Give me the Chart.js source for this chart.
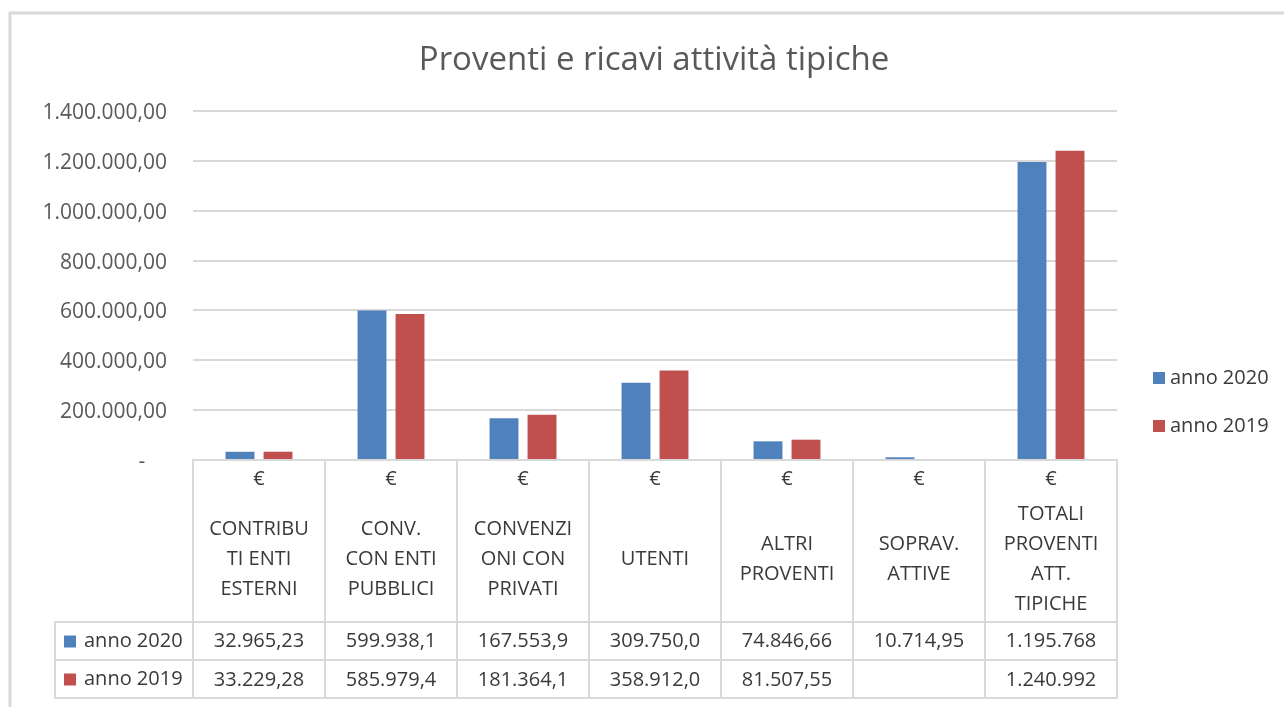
<!DOCTYPE html>
<html>
<head>
<meta charset="utf-8">
<script src="https://cdn.jsdelivr.net/npm/chart.js@4.4.1/dist/chart.umd.min.js"></script>
<style>
  html, body { margin: 0; padding: 0; background: #fff; }
  #chart { display: block; }
</style>
</head>
<body>
<canvas id="chart" width="1284" height="707"></canvas>
<script>
// dati del grafico
const titolo = 'Proventi e ricavi attività tipiche';
const categorie = [
    ['CONTRIBU', 'TI ENTI', 'ESTERNI'],
    ['CONV.', 'CON ENTI', 'PUBBLICI'],
    ['CONVENZI', 'ONI CON', 'PRIVATI'],
    ['UTENTI'],
    ['ALTRI', 'PROVENTI'],
    ['SOPRAV.', 'ATTIVE'],
    ['TOTALI', 'PROVENTI', 'ATT.', 'TIPICHE']
];
const serieNomi = ['anno 2020', 'anno 2019'];
const anno2020 = [32965.23, 599938.10, 167553.90, 309750.00, 74846.66, 10714.95, 1195768.84];
const anno2019 = [33229.28, 585979.40, 181364.10, 358912.00, 81507.55, null, 1240992.33];
const coloriSerie = ['#4f81bd', '#c0504d'];
const yMax = 1400000;
const yStep = 200000;

const GRIGIO = '#d9d9d9';
const TESTO = '#3a3a3a';
const FONT = "'Open Sans'";

function formatIt(v, dec) {
    let parts = Math.abs(v).toFixed(dec).split('.');
    let int = parts[0].replace(/\B(?=(\d{3})+(?!\d))/g, '.');
    return parts.length > 1 ? int + ',' + parts[1] : int;
}

// la tabella di Excel mostra al massimo 9 caratteri per cella
function cellaTabella(v) {
    if (v === null || v === undefined) return '';
    let s = formatIt(v, 2).slice(0, 9);
    if (s.endsWith(',') || s.endsWith('.')) s = s.slice(0, -1);
    return s;
}

const tabellaPlugin = {
    id: 'tabellaDati',
    beforeDraw(chart) {
        const c = chart.ctx;
        c.save();
        c.fillStyle = '#fff';
        c.fillRect(0, 0, chart.width, chart.height);
        // cornice
        c.strokeStyle = GRIGIO;
        c.lineWidth = 3;
        c.beginPath();
        c.moveTo(10, chart.height);
        c.lineTo(10, 13);
        c.lineTo(chart.width, 13);
        c.stroke();
        // titolo
        c.fillStyle = '#595959';
        c.font = '33px ' + FONT;
        c.textAlign = 'center';
        c.textBaseline = 'alphabetic';
        c.fillText(titolo, 654, 70);
        c.restore();
    },
    afterDraw(chart) {
        const c = chart.ctx;
        const x = chart.scales.x;
        const area = chart.chartArea;
        const rigaY = [622, 660, 698];
        c.save();
        c.strokeStyle = GRIGIO;
        c.lineWidth = 2;
        c.beginPath();
        rigaY.forEach(y => {
            c.moveTo(55, y);
            c.lineTo(area.right + 1, y);
        });
        c.moveTo(55, rigaY[0] - 1);
        c.lineTo(55, rigaY[2] + 1);
        c.stroke();

        c.fillStyle = TESTO;
        c.font = '20px ' + FONT;
        c.textAlign = 'center';
        c.textBaseline = 'middle';
        categorie.forEach((righe, i) => {
            const cx = x.getPixelForValue(i);
            c.fillText('€', cx, 479);
            const y0 = 559 - (righe.length - 1) * 30 / 2;
            righe.forEach((r, k) => c.fillText(r, cx, y0 + k * 30));
            c.fillText(cellaTabella(anno2020[i]), cx, 641);
            c.fillText(cellaTabella(anno2019[i]), cx, 680);
        });

        // chiavi della legenda nella tabella
        c.textAlign = 'left';
        [641, 679].forEach((y, k) => {
            c.fillStyle = coloriSerie[k];
            c.fillRect(64, y - 5.5, 12, 12);
            c.fillStyle = TESTO;
            c.fillText(serieNomi[k], 84, y);
        });

        // legenda a destra
        [378, 426].forEach((y, k) => {
            c.fillStyle = coloriSerie[k];
            c.fillRect(1153, y - 6, 12, 12);
            c.fillStyle = TESTO;
            c.fillText(serieNomi[k], 1170, y);
        });
        c.restore();
    }
};

const ctx = document.getElementById('chart');
new Chart(ctx, {
    type: 'bar',
    data: {
        labels: categorie.map(r => r.join(' ')),
        datasets: [{
            label: serieNomi[0],
            data: anno2020,
            backgroundColor: coloriSerie[0],
            categoryPercentage: 0.576,
            barPercentage: 0.76,
        }, {
            label: serieNomi[1],
            data: anno2019,
            backgroundColor: coloriSerie[1],
            categoryPercentage: 0.576,
            barPercentage: 0.76,
        }]
    },
    options: {
        responsive: false,
        animation: false,
        layout: {
            padding: { top: 111, right: 167, bottom: 9, left: 0 }
        },
        plugins: {
            legend: { display: false },
            title: { display: false },
            tooltip: { enabled: false }
        },
        scales: {
            x: {
                offset: true,
                border: { display: true, color: GRIGIO, width: 2 },
                grid: {
                    offset: true,
                    drawOnChartArea: false,
                    drawTicks: true,
                    tickLength: 238,
                    color: GRIGIO,
                    lineWidth: 2
                },
                ticks: { display: false },
                afterFit(s) { s.height = 238; }
            },
            y: {
                min: 0,
                max: yMax,
                border: { display: false },
                grid: { color: GRIGIO, lineWidth: 2, drawTicks: false },
                ticks: {
                    stepSize: yStep,
                    padding: 26,
                    labelOffset: 2,
                    color: '#595959',
                    font: { family: FONT, size: 21 },
                    callback: v => v === 0 ? '-    ' : formatIt(v, 2)
                },
                afterFit(s) { s.width = 193; }
            }
        }
    },
    plugins: [tabellaPlugin]
});
</script>
</body>
</html>
